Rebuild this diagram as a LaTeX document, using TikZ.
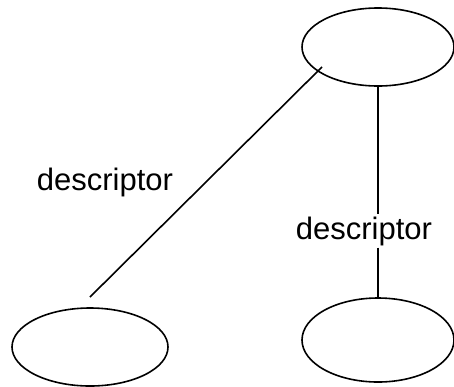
\documentclass[tikz,border=0pt]{standalone}
\usepackage{fontspec}
\setmainfont{Liberation Sans}
\usepackage{tikz}
\usetikzlibrary{shapes.geometric}
\tikzstyle{edge} = [draw,line width=1.6pt]
\tikzstyle{oval} = [ellipse,draw,line width=1.6pt,inner sep=0,minimum width=152pt,minimum height=78pt]
\tikzstyle{lbl} = [inner sep=2,font=\fontsize{31}{37}\selectfont]

\begin{document}
\begin{tikzpicture}[x=1pt,y=-1pt]
    \useasboundingbox (0,0) rectangle (454,386);

    \node[oval] (top) at (378,47) {};
    \node[oval,minimum height=84pt] (rt) at (378,340) {};
    \node[oval,minimum width=156pt] (lt) at (90,347) {};

    \coordinate (d1) at (322,67);
    \coordinate (d2) at (90,297);

    \node[lbl] (dl) at (105,182) {descriptor};
    \node[lbl] (dr) at (364,231) {descriptor};

    \draw[edge] (d1) -- (d2);
    \draw[edge] (top.south) -- (top.south |- dr.north);
    \draw[edge] (top.south |- dr.south) -- (rt.north);
\end{tikzpicture}
\end{document}
